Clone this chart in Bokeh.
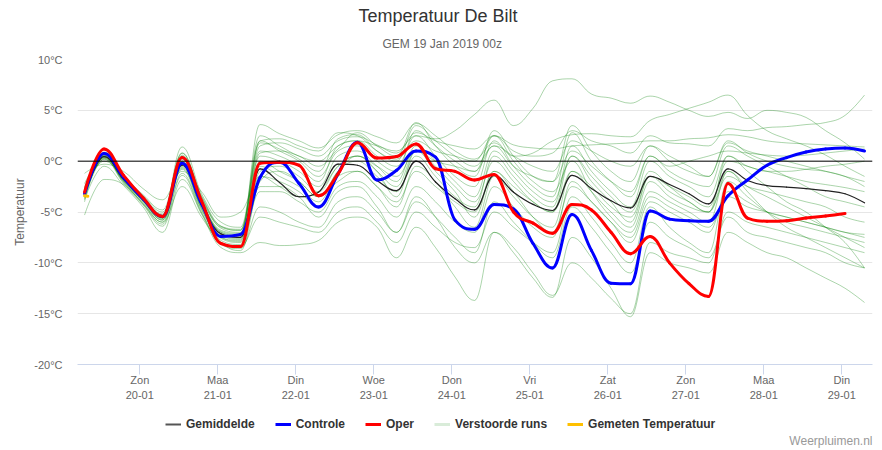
from bokeh.plotting import figure
from bokeh.layouts import column
from bokeh.models import (ColumnDataSource, FixedTicker, Span, Title, Legend,
                          LegendItem, Range1d, Label)
from bokeh.embed import file_html
from bokeh.resources import INLINE

chart_title = "Temperatuur De Bilt"
chart_subtitle = "GEM 19 Jan 2019 00z"
credits_text = "Weerpluimen.nl"
y_axis_title = "Temperatuur"

# time axis: days since 19-01-2019 00:00 (local time); forecast every 6 hours from 19-01 07:00
t_first = 7 / 24
t_step = 0.25
n_steps = 41
times = [t_first + t_step * i for i in range(n_steps)]

day_ticks = [1, 2, 3, 4, 5, 6, 7, 8, 9, 10]
day_names = ["Zon", "Maa", "Din", "Woe", "Don", "Vri", "Zat", "Zon", "Maa", "Din"]
day_dates = ["20-01", "21-01", "22-01", "23-01", "24-01", "25-01", "26-01", "27-01", "28-01", "29-01"]

y_ticks = [-20, -15, -10, -5, 0, 5, 10]
y_tick_labels = ["-20°C", "-15°C", "-10°C", "-5°C", "0°C", "5°C", "10°C"]

gemiddelde = [-3.3, 0.45, -1.8, -3.8, -5.55, -0.4, -4.3, -7.15, -7.5, -0.75,
              -2.1, -3.5, -3.05, -0.3, -0.4, -1.9, -2.9, 0.0, -2.05, -3.7, -4.8,
              -1.4, -3.05, -4.25, -4.85, -1.4, -2.7, -3.9, -4.6, -1.5, -2.3,
              -3.2, -4.2, -0.75, -1.9, -2.4, -2.55, -2.7, -2.9, -3.2, -4.1]

controle = [-3.2, 0.75, -1.6, -3.7, -5.45, -0.2, -4.2, -7.4, -7.2, -1.6,
            -0.1, -2.2, -4.5, -1.25, 1.85, -1.85, -0.9, 1.0, 0.4, -5.8, -6.7,
            -4.25, -4.7, -8.1, -10.5, -5.25, -8.8, -12.0, -12.05, -4.9, -5.7,
            -5.85, -5.9, -3.4, -1.85, -0.4, 0.35, 0.9, 1.2, 1.3, 1.0]

oper = [-3.05, 1.2, -1.4, -3.6, -5.45, 0.35, -3.9, -8.1, -8.4, -0.2,
        -0.1, -0.4, -3.4, -1.25, 1.8, 0.3, 0.45, 1.7, -0.75, -1.0, -1.85,
        -1.3, -5.0, -6.1, -7.1, -4.25, -4.8, -7.0, -9.1, -7.4, -10.0,
        -12.05, -13.3, -2.2, -5.6, -5.9, -5.85, -5.6, -5.4, -5.15]

gemeten_times = [7 / 24, 8 / 24]
gemeten = [-3.4, -3.45]

verstoord = [
    [-2.8, 0.9, -1.4, -3.5, -5.3, 1.4, -3.2, -6.0, -6.5, 2.5,
     1.5, 0.5, 0.0, 1.5, 2.0, 1.5, 1.0, 2.5, 2.2, 3.0, 4.6,
     6.0, 3.5, 5.2, 7.9, 8.1, 6.6, 6.2, 5.7, 6.4, 5.8,
     5.0, 4.4, 4.8, 4.2, 5.0, 4.8, 4.3, 3.0, 1.8, 0.2],
    [-3.0, 0.7, -1.6, -3.6, -5.4, 0.8, -3.6, -6.5, -6.8, 2.0,
     2.2, 1.5, 1.0, 2.8, 2.5, 1.0, 0.2, 2.0, 1.0, 0.5, 0.0,
     2.5, 1.0, 0.5, 0.8, 3.0, 2.0, 1.5, 0.8, 2.5, 1.8,
     1.7, 1.5, 3.2, 3.0, 3.3, 3.4, 3.6, 3.8, 4.5, 6.5],
    [-3.5, 0.5, -1.9, -3.9, -5.6, 0.2, -4.0, -6.9, -7.2, 3.6,
     2.7, 2.0, 1.3, 2.6, 3.0, 2.4, 1.8, 3.7, 2.5, 1.0, 0.2,
     1.8, 0.5, 0.8, 2.0, 2.6, 2.7, 2.5, 2.4, 4.0, 4.6,
     5.2, 5.8, 6.5, 4.5, 3.0, 2.2, 1.5, 0.6, -0.5, -1.5],
    [-2.2, 0.3, -1.5, -3.4, -5.0, -0.2, -3.8, -6.6, -7.0, 1.5,
     1.8, 1.2, 0.5, 2.0, 2.4, 1.6, 0.8, 2.8, 2.0, 1.5, 1.2,
     2.5, 1.6, 1.3, 1.2, 1.5, 1.6, 1.7, 1.8, 2.0, 2.0,
     2.2, 2.3, 2.6, 2.4, 2.0, 1.8, 1.7, 1.6, 1.5, 1.4],
    [-4.0, 0.8, -1.7, -3.7, -5.5, -0.5, -4.5, -7.5, -7.8, 0.8,
     1.0, 0.5, -0.5, 1.2, 2.8, 1.5, 0.5, 3.8, 1.5, -0.5, -1.5,
     3.0, 0.5, -1.5, -2.0, 3.5, 1.0, -1.0, -2.0, 1.5, 0.0,
     -1.0, -1.5, 2.0, 0.8, 0.0, -0.5, -0.8, -1.0, -1.5, -2.0],
    [-1.2, -0.3, -1.0, -2.7, -3.8, -1.0, -3.0, -5.5, -5.0, -1.5,
     -2.5, -3.5, -3.0, -0.5, 0.5, -0.5, -1.5, 1.0, 0.0, -0.5, -1.0,
     1.5, -0.5, -1.5, -2.0, 1.0, -0.5, -2.0, -3.0, 0.5, -0.5,
     0.0, 0.5, 1.0, 0.8, 0.6, 0.5, 0.6, 0.8, 1.0, 1.2],
    [-5.3, -1.8, -2.3, -4.2, -6.0, -2.5, -5.5, -8.0, -8.8, -2.0,
     -1.0, -2.0, -3.5, -2.0, -1.0, -2.5, -4.0, -1.0, -2.5, -4.0, -5.0,
     -1.0, -2.5, -4.0, -5.0, 0.5, -1.5, -3.5, -5.0, -1.0, -2.5,
     -4.0, -5.0, -1.5, -2.5, -3.0, -3.5, -4.0, -4.5, -5.5, -6.0],
    [-3.2, 0.2, -2.0, -4.2, -6.2, -1.2, -5.0, -8.2, -8.6, -4.5,
     -5.0, -6.0, -6.5, -4.0, -3.5, -5.0, -7.0, -4.0, -5.5, -7.5, -9.0,
     -4.0, -6.0, -8.0, -9.5, -4.5, -6.5, -9.0, -11.0, -6.0, -7.5,
     -8.5, -9.5, -5.5, -7.0, -7.5, -8.0, -8.5, -9.0, -10.0, -10.5],
    [-3.8, -0.5, -2.4, -4.5, -7.0, -1.8, -5.2, -8.5, -9.0, -8.0,
     -8.3, -8.2, -7.8, -6.0, -5.5, -6.5, -9.5, -6.5, -8.5, -11.4, -13.7,
     -7.0, -9.0, -11.5, -13.4, -7.5, -9.5, -12.5, -15.3, -9.0, -10.0,
     -10.5, -11.0, -7.0, -8.0, -9.0, -9.5, -10.5, -11.5, -12.5, -13.9],
    [-2.6, 0.0, -1.5, -3.3, -4.8, 0.6, -3.4, -6.4, -6.8, 1.0,
     0.5, -0.5, -2.0, 1.5, 2.0, 0.5, -0.5, 2.5, 0.5, -1.5, -2.5,
     2.0, -0.5, -2.5, -3.5, 2.8, 0.0, -2.0, -3.5, 0.5, -1.0,
     -2.0, -2.5, 1.5, 0.5, -0.5, -1.5, -2.5, -3.5, -4.0, -4.5],
    [-3.4, 0.3, -2.0, -4.0, -5.8, -0.8, -4.8, -7.6, -8.0, -3.0,
     -3.0, -4.0, -5.0, -2.5, -2.0, -3.5, -5.5, -2.5, -4.0, -6.0, -7.0,
     -2.5, -4.5, -6.5, -7.5, -2.0, -4.0, -6.0, -7.5, -3.5, -4.5,
     -5.5, -6.5, -3.5, -4.5, -5.0, -5.5, -6.0, -6.5, -7.0, -7.2],
    [-3.1, 0.6, -1.7, -3.8, -5.6, 0.0, -4.2, -7.0, -7.4, -0.5,
     -1.5, -2.5, -4.0, -1.0, 0.0, -1.5, -3.0, 0.5, -1.5, -3.5, -4.5,
     0.5, -1.5, -3.5, -4.5, 1.5, -1.0, -3.0, -4.5, 0.0, -1.5,
     -2.5, -3.5, 0.5, -0.5, -1.0, -1.5, -2.0, -2.3, -2.6, -3.0],
    [-3.6, 0.4, -2.1, -4.1, -6.0, -0.6, -4.7, -7.8, -8.2, -2.5,
     -2.5, -3.5, -5.5, -3.0, -2.5, -4.5, -7.0, -3.5, -5.5, -8.5, -10.0,
     -7.0, -8.5, -11.0, -13.2, -10.0, -11.5, -13.5, -15.0, -8.0, -9.0,
     -9.5, -10.0, -5.0, -6.0, -6.5, -7.0, -7.5, -8.0, -8.5, -9.0],
    [-2.9, 0.5, -1.8, -3.9, -5.7, -0.3, -4.4, -7.3, -7.7, -1.5,
     -2.0, -3.0, -4.5, -1.5, -1.0, -2.5, -4.5, -0.5, -2.0, -4.5, -6.5,
     -1.5, -3.5, -5.5, -6.5, -1.0, -3.0, -5.0, -6.5, -2.0, -3.5,
     -4.5, -5.0, -1.0, -2.5, -3.5, -4.5, -5.5, -6.5, -7.5, -8.5],
    [-3.3, 0.7, -1.6, -3.6, -5.4, 0.5, -3.9, -6.8, -7.1, 0.5,
     0.0, -1.0, -2.5, 0.5, 1.0, -0.5, -2.0, 1.5, 0.0, -2.0, -3.5,
     1.0, -1.0, -3.0, -4.0, 0.5, -2.0, -4.0, -6.0, -1.5, -3.0,
     -4.0, -5.0, 0.5, -1.0, -2.5, -4.0, -5.0, -6.5, -8.0, -10.5],
    [-2.7, 0.6, -1.5, -3.5, -5.2, 0.8, -3.5, -6.4, -6.7, 2.0,
     1.0, 0.0, -1.5, 1.0, 1.5, 0.0, -1.0, 3.0, 1.5, 0.0, -1.0,
     2.5, 0.0, -2.0, -3.0, 0.0, -3.0, -5.5, -7.0, -3.0, -4.0,
     -5.0, -6.0, -1.0, -3.0, -5.0, -6.5, -7.5, -8.5, -9.5, -10.5],
    [-3.7, 0.2, -2.2, -4.3, -6.4, -1.4, -5.1, -8.0, -8.4, -5.5,
     -6.0, -6.5, -7.0, -5.0, -4.5, -6.0, -8.0, -5.0, -6.5, -8.0, -8.5,
     -5.0, -6.5, -8.0, -9.0, -3.5, -5.5, -8.0, -10.0, -4.5, -6.5,
     -8.0, -9.0, -2.0, -3.5, -5.0, -6.0, -6.5, -7.0, -7.5, -8.0],
    [-3.0, 0.8, -1.5, -3.7, -5.5, 0.3, -4.0, -7.0, -7.3, 1.8,
     1.2, 0.2, -1.0, 2.2, 2.6, 1.0, 0.0, 3.5, 2.0, 0.5, -0.5,
     1.5, 0.5, -0.5, -1.0, 2.0, 1.0, 0.0, -0.5, 1.5, 0.5,
     -0.5, -1.5, 1.8, 1.0, 0.5, 0.0, -0.5, -1.0, -1.5, -2.5],
    [-3.4, 0.4, -1.9, -3.9, -5.8, -0.7, -4.6, -7.5, -7.9, -1.0,
     -0.5, -1.5, -3.0, -0.5, 0.5, -1.0, -2.5, 1.0, -0.5, -2.5, -4.0,
     0.0, -2.0, -4.0, -5.0, -1.0, -2.5, -4.5, -5.5, -1.5, -2.5,
     -3.5, -4.5, 0.0, -0.5, -1.0, -1.0, -0.8, -0.5, -0.3, 0.0],
    [-2.5, 0.5, -1.6, -3.6, -5.4, 0.0, -4.1, -7.2, -7.6, 0.0,
     -1.0, -2.0, -3.5, -1.0, 0.5, -1.0, -3.5, 1.0, -1.0, -3.0, -5.5,
     -1.0, -3.0, -5.5, -7.0, -2.5, -4.0, -6.0, -8.0, -4.0, -5.0,
     -6.0, -7.0, -3.0, -4.0, -5.0, -5.5, -6.0, -6.5, -7.0, -7.5],
]


def spline_segments(xs, ys, smoothing=1.5):
    """Bezier control points of a Highcharts-style spline through the data points."""
    denom = smoothing + 1
    n = len(xs)
    left = [(xs[i], ys[i]) for i in range(n)]
    right = [(xs[i], ys[i]) for i in range(n)]
    for i in range(1, n - 1):
        px, py = xs[i], ys[i]
        lx, ly = xs[i - 1], ys[i - 1]
        nx, ny = xs[i + 1], ys[i + 1]
        lcx = (smoothing * px + lx) / denom
        lcy = (smoothing * py + ly) / denom
        rcx = (smoothing * px + nx) / denom
        rcy = (smoothing * py + ny) / denom
        if rcx != lcx:
            corr = ((rcy - lcy) * (rcx - px)) / (rcx - lcx) + py - rcy
            lcy += corr
            rcy += corr
        if lcy > ly and lcy > py:
            lcy = max(ly, py)
            rcy = 2 * py - lcy
        elif lcy < ly and lcy < py:
            lcy = min(ly, py)
            rcy = 2 * py - lcy
        if rcy > ny and rcy > py:
            rcy = max(ny, py)
            lcy = 2 * py - rcy
        elif rcy < ny and rcy < py:
            rcy = min(ny, py)
            lcy = 2 * py - rcy
        left[i] = (lcx, lcy)
        right[i] = (rcx, rcy)
    seg = dict(x0=[], y0=[], x1=[], y1=[], cx0=[], cy0=[], cx1=[], cy1=[])
    for i in range(n - 1):
        seg["x0"].append(xs[i]); seg["y0"].append(ys[i])
        seg["x1"].append(xs[i + 1]); seg["y1"].append(ys[i + 1])
        seg["cx0"].append(right[i][0]); seg["cy0"].append(right[i][1])
        seg["cx1"].append(left[i + 1][0]); seg["cy1"].append(left[i + 1][1])
    return seg


def merge(segs):
    out = {k: [] for k in segs[0]}
    for s in segs:
        for k in out:
            out[k].extend(s[k])
    return out


FONT = "Liberation Sans"

p = figure(width=880, height=410, output_backend="svg", toolbar_location=None,
           x_range=Range1d(0.2013, 10.394), y_range=Range1d(-20, 10),
           min_border_left=77, min_border_right=8, min_border_top=59,
           min_border_bottom=46, title=None)
p.outline_line_color = None
p.background_fill_color = "white"
p.border_fill_color = "white"

# grid
p.xgrid.visible = False
p.ygrid.ticker = FixedTicker(ticks=y_ticks)
p.ygrid.grid_line_color = "#e6e6e6"
p.ygrid.grid_line_width = 1

# y axis
p.yaxis.ticker = FixedTicker(ticks=y_ticks)
p.yaxis.major_label_overrides = {v: s for v, s in zip(y_ticks, y_tick_labels)}
p.yaxis.axis_line_color = None
p.yaxis.major_tick_line_color = None
p.yaxis.major_tick_out = 0
p.yaxis.major_tick_in = 0
p.yaxis.minor_tick_line_color = None
p.yaxis.major_label_standoff = 15
p.yaxis.major_label_text_font = FONT
p.yaxis.major_label_text_font_size = "11px"
p.yaxis.major_label_text_color = "#666666"
p.yaxis.axis_label = y_axis_title
p.yaxis.axis_label_text_font = FONT
p.yaxis.axis_label_text_font_size = "12px"
p.yaxis.axis_label_text_font_style = "normal"
p.yaxis.axis_label_text_color = "#666666"
p.yaxis.axis_label_standoff = 4

# x axis
p.xaxis.ticker = FixedTicker(ticks=day_ticks)
p.xaxis.major_label_overrides = {t: f"{n}\n{d}" for t, n, d in zip(day_ticks, day_names, day_dates)}
p.xaxis.axis_line_color = "#ccd6eb"
p.xaxis.major_tick_line_color = "#ccd6eb"
p.xaxis.major_tick_out = 10
p.xaxis.major_tick_in = 0
p.xaxis.minor_tick_line_color = None
p.xaxis.major_label_standoff = -1
p.xaxis.major_label_text_font = FONT
p.xaxis.major_label_text_font_size = "11px"
p.xaxis.major_label_text_color = "#666666"
p.xaxis.major_label_text_line_height = 1.3

# zero line
p.add_layout(Span(location=0, dimension="width", line_color="black", line_width=1))

# series drawn as splines through the data points
runs_src = ColumnDataSource(merge([spline_segments(times, m) for m in verstoord]))
p.bezier(x0="x0", y0="y0", x1="x1", y1="y1", cx0="cx0", cy0="cy0", cx1="cx1", cy1="cy1",
         source=runs_src, line_color="green", line_alpha=0.33, line_width=1)

series_styles = [
    (gemiddelde, times, "#222222", 1.2),
    (controle, times, "#0000ff", 3),
    (oper, times[:len(oper)], "#ff0000", 3),
    (gemeten, gemeten_times, "#ffc000", 3),
]
for vals, ts, col, w in series_styles:
    src = ColumnDataSource(spline_segments(ts, vals))
    p.bezier(x0="x0", y0="y0", x1="x1", y1="y1", cx0="cx0", cy0="cy0", cx1="cx1", cy1="cy1",
             source=src, line_color=col, line_width=w, line_cap="round")

p.add_layout(Title(text=chart_subtitle, align="left", offset=305, text_font=FONT,
                   text_font_size="12px", text_font_style="normal", text_color="#666666",
                   standoff=18), "above")
p.add_layout(Title(text=chart_title, align="left", offset=281, text_font=FONT,
                   text_font_size="18px", text_font_style="normal", text_color="#333333",
                   standoff=0), "above")

# legend strip below the chart (its frame is aligned with the chart frame)
q = figure(width=880, height=38, output_backend="svg", toolbar_location=None,
           min_border_left=0, min_border_right=0, min_border_top=0, min_border_bottom=0,
           x_range=Range1d(0, 1), y_range=Range1d(-20, 10), title=None)
q.axis.visible = False
q.grid.visible = False
q.outline_line_color = None
q.background_fill_color = "white"
q.border_fill_color = "white"

lg_mean = q.line([times[0]], [gemiddelde[0]], line_color="#555555", line_width=2)
lg_ctrl = q.line([times[0]], [controle[0]], line_color="#0000ff", line_width=3)
lg_oper = q.line([times[0]], [oper[0]], line_color="#ff0000", line_width=3)
lg_runs = q.line([times[0]], [verstoord[0][0]], line_color="green", line_alpha=0.15, line_width=3)
lg_obs = q.line([gemeten_times[0]], [gemeten[0]], line_color="#ffc000", line_width=3)

legend = Legend(items=[
    LegendItem(label="Gemiddelde", renderers=[lg_mean]),
    LegendItem(label="Controle", renderers=[lg_ctrl]),
    LegendItem(label="Oper", renderers=[lg_oper]),
    LegendItem(label="Verstoorde runs", renderers=[lg_runs]),
    LegendItem(label="Gemeten Temperatuur", renderers=[lg_obs]),
], orientation="horizontal", location=(88, 16))
legend.label_text_font = FONT
legend.label_text_font_size = "12px"
legend.label_text_font_style = "bold"
legend.label_text_color = "#333333"
legend.glyph_width = 16
legend.glyph_height = 16
legend.label_standoff = 5
legend.spacing = 20
legend.padding = 0
legend.margin = 0
legend.border_line_color = None
legend.background_fill_alpha = 0
legend.label_height = 16
q.add_layout(legend)

q.add_layout(Label(x=795, y=8, x_units="screen", y_units="screen", text=credits_text,
                   text_align="right", text_baseline="middle", text_font=FONT,
                   text_font_size="12px", text_color="#999999"))

open("out.html", "w").write(file_html(column(p, q, spacing=0), INLINE))
